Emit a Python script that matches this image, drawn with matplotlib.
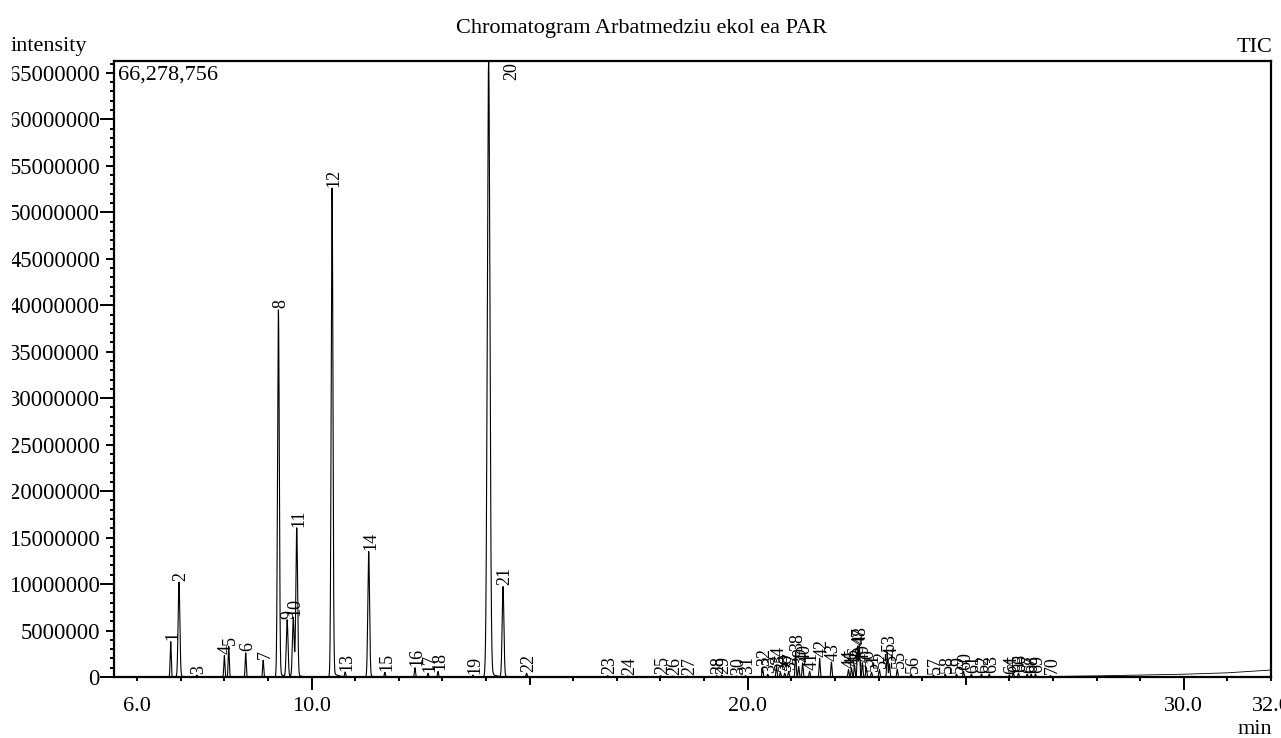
import numpy as np
import matplotlib
matplotlib.use("Agg")
import matplotlib.pyplot as plt
from matplotlib.ticker import FixedLocator, MultipleLocator
from matplotlib.transforms import Bbox

plt.rcParams['font.family'] = ['Liberation Serif', 'DejaVu Serif']

# peak table: id, retention time (min), height (counts)
peak_ids = list(range(1, 71))
peak_rt = [6.77, 6.96, 7.37, 8.00, 8.10, 8.49, 8.89, 9.24, 9.44, 9.58,
           9.66, 10.47, 10.77, 11.31, 11.68, 12.37, 12.67, 12.90, 13.70, 14.06,
           14.39, 14.93, 16.79, 17.25, 18.00, 18.28, 18.62, 19.29, 19.40, 19.75,
           19.95, 20.34, 20.46, 20.66, 20.75, 20.85, 20.94, 21.10, 21.17, 21.26,
           21.42, 21.65, 21.92, 22.31, 22.38, 22.45, 22.52, 22.56, 22.63, 22.72,
           22.84, 23.02, 23.20, 23.25, 23.43, 23.75, 24.26, 24.53, 24.79, 24.95,
           25.13, 25.36, 25.54, 26.00, 26.09, 26.21, 26.41, 26.50, 26.60, 26.94]
peak_h = [3.8e6, 10.2e6, 0.2e6, 2.3e6, 3.3e6, 2.6e6, 1.8e6, 39.5e6, 6.1e6, 6.4e6,
          16.0e6, 52.6e6, 0.5e6, 13.5e6, 0.5e6, 1.0e6, 0.4e6, 0.6e6, 0.2e6, 66278756,
          9.7e6, 0.4e6, 0.15e6, 0.1e6, 0.15e6, 0.1e6, 0.1e6, 0.15e6, 0.2e6, 0.1e6,
          0.15e6, 1.0e6, 0.3e6, 1.2e6, 0.5e6, 0.4e6, 0.6e6, 2.7e6, 1.1e6, 1.5e6,
          0.6e6, 2.0e6, 1.6e6, 0.8e6, 1.0e6, 1.3e6, 3.3e6, 3.4e6, 1.5e6, 1.0e6,
          0.5e6, 0.8e6, 2.7e6, 1.4e6, 0.8e6, 0.3e6, 0.2e6, 0.3e6, 0.3e6, 0.6e6,
          0.3e6, 0.3e6, 0.3e6, 0.2e6, 0.4e6, 0.4e6, 0.3e6, 0.3e6, 0.3e6, 0.15e6]

# baseline drift at the end of the run
drift_t = [5.47, 26.0, 28.0, 30.0, 31.0, 32.0]
drift_v = [0.0, 0.0, 0.12e6, 0.3e6, 0.45e6, 0.75e6]

x_ticks = [6.0, 10.0, 20.0, 30.0, 32.0]
x_labels = ["6.0", "10.0", "20.0", "30.0", "32.0"]
y_ticks = list(range(0, 65000001, 5000000))
y_top = 66278756

# build trace from the peak table
t = np.arange(5.47, 32.0, 0.002)
sig = np.zeros_like(t)
for rt, h in zip(peak_rt, peak_h):
    s = 0.03 if h > 60e6 else (0.02 if h > 5e6 else 0.012)
    d = t - rt
    g = np.exp(-d**2 / (2 * s**2))
    tail = np.where(d > 0, np.exp(-d / 0.1), 0.0) * (1 - g)
    sig += h * g + 0.012 * h * tail

fig = plt.figure(figsize=(12.81, 7.38), dpi=100)
ax = fig.add_axes([114/1281, 1 - 677/738, (1271 - 114)/1281, (677 - 61)/738])

ax.plot(t, sig, color='black', lw=0.8)
ax.plot(drift_t, drift_v, color='black', lw=0.6)

for n, rt, h in zip(peak_ids, peak_rt, peak_h):
    if h > 0.95 * y_top:
        ax.annotate(str(n), xy=(rt, y_top), xytext=(16.5, -1), textcoords='offset points',
                    rotation=90, ha='center', va='top', fontsize=13)
    else:
        ax.annotate(str(n), xy=(rt, h), xytext=(1.5, 1), textcoords='offset points',
                    rotation=90, ha='center', va='bottom', fontsize=13)

ax.set_xlim(5.47, 32.0)
ax.set_ylim(0, y_top)

for sp in ax.spines.values():
    sp.set_linewidth(1.6)

# x axis ticks
ax.xaxis.set_major_locator(FixedLocator(x_ticks))
ax.set_xticklabels(x_labels, fontsize=16)
ax.xaxis.set_minor_locator(MultipleLocator(1.0))
ax.tick_params(axis='x', which='major', length=9.4, width=1.4, pad=5, direction='out')
ax.tick_params(axis='x', which='minor', length=3.2, width=1.4, direction='out')
for tk, loc in zip(ax.xaxis.get_major_ticks(), x_ticks):
    if loc in (6.0, 32.0):
        tk.tick1line.set_markersize(3.2)
for tk, loc in zip(ax.xaxis.get_minor_ticks(), ax.xaxis.get_minorticklocs()):
    if abs(loc % 5) < 1e-6:
        tk.tick1line.set_markersize(5.8)

# y axis ticks
ax.yaxis.set_major_locator(FixedLocator(y_ticks))
ax.set_yticklabels([str(v) for v in y_ticks], fontsize=16.3)
ax.yaxis.set_minor_locator(MultipleLocator(1000000))
ax.tick_params(axis='y', which='major', length=5.8, width=1.4, pad=4.3, direction='out')
ax.tick_params(axis='y', which='minor', length=3.2, width=1.4, direction='out')
for tk, loc in zip(ax.yaxis.get_major_ticks(), y_ticks):
    if loc % 10000000 == 0:
        tk.tick1line.set_markersize(10)

# the left margin cuts the first digit of the long labels
clip = Bbox.from_extents(11.5, 0, 1281, 738)
for lab in ax.get_yticklabels():
    lab.set_clip_box(clip)
    lab.set_clip_on(True)

ax.text(0.0035, 0.992, "66,278,756", transform=ax.transAxes, ha='left', va='top', fontsize=16)

fig.text(642/1281, 1 - 28/738, "Chromatogram Arbatmedziu ekol ea PAR", ha='center', va='center', fontsize=16)
fig.text(11/1281, 1 - 47/738, "intensity", ha='left', va='center', fontsize=16)
fig.text(1272/1281, 1 - 47/738, "TIC", ha='right', va='center', fontsize=16)
fig.text(1255/1281, 1 - 730/738, "min", ha='center', va='center', fontsize=16)

fig.savefig("out.png", dpi=100)
